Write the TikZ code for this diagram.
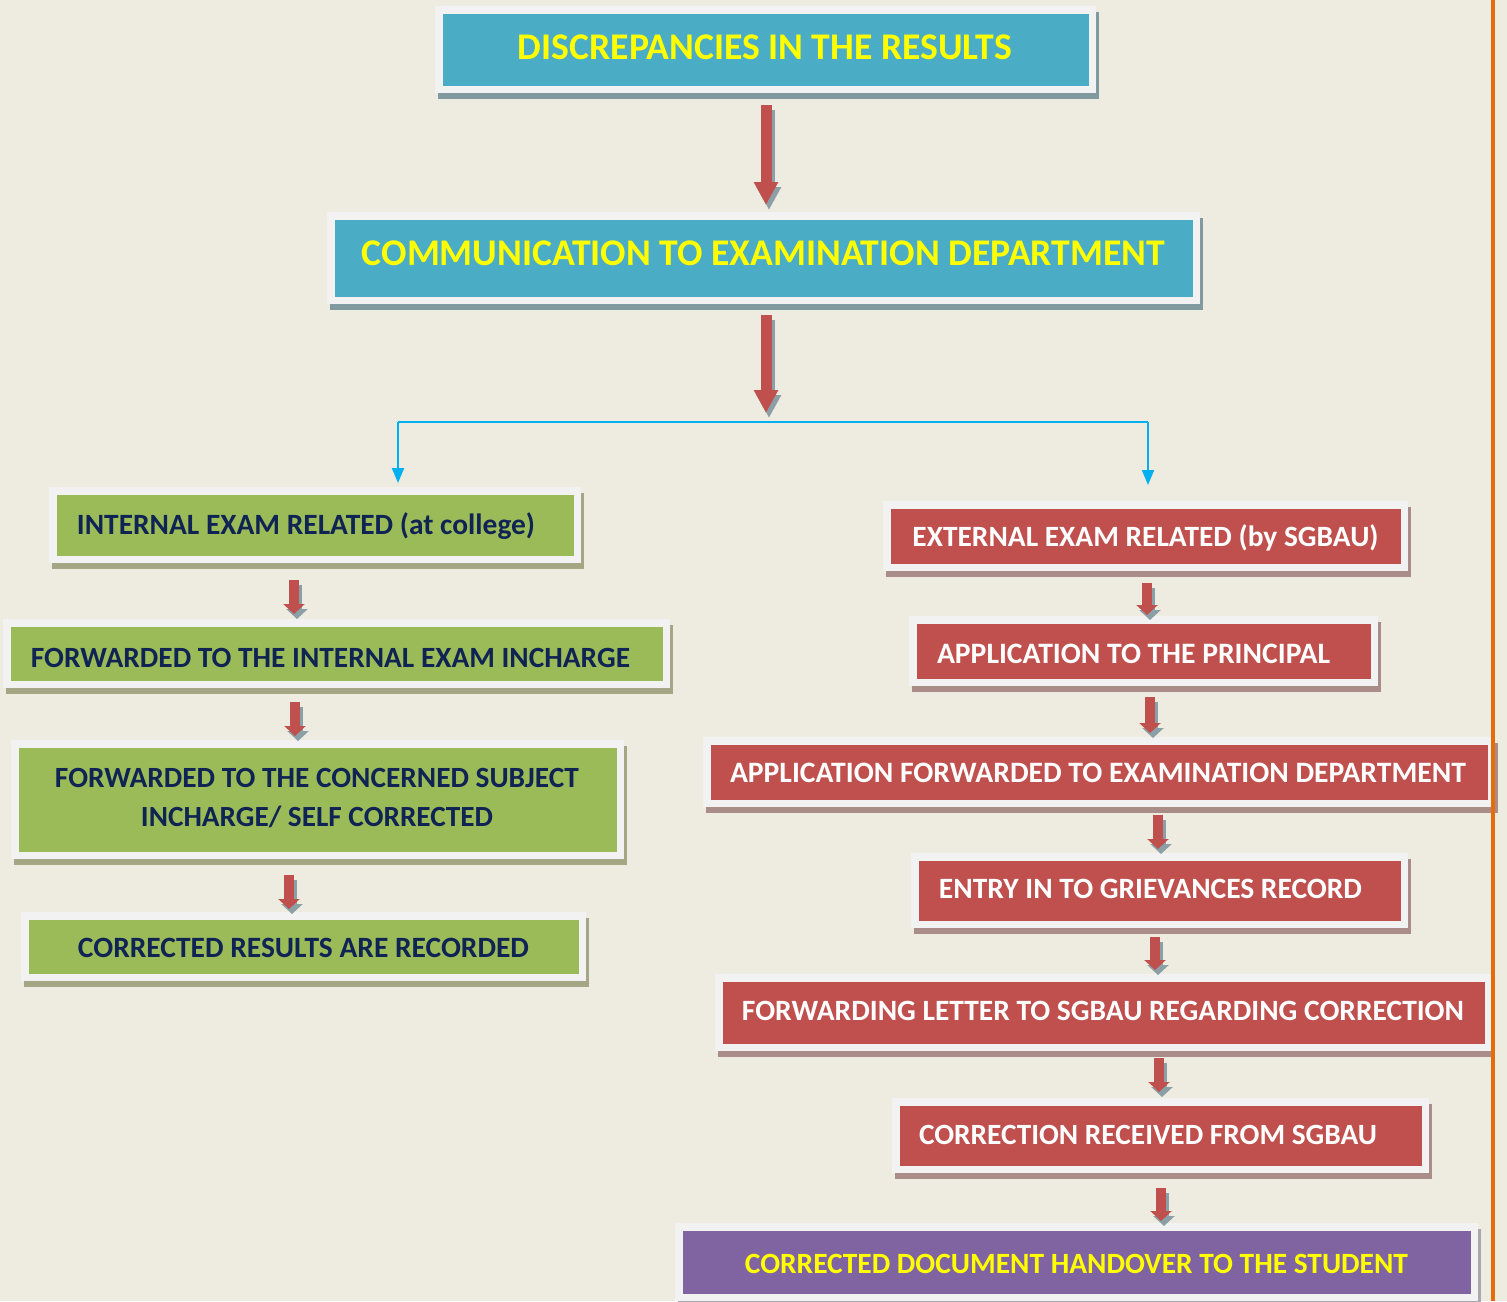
\documentclass[tikz,border=0pt]{standalone}
\usepackage{fontspec}
\setmainfont{Carlito}
\usepackage{graphicx}
\usetikzlibrary{arrows.meta,shadows,calc}
\definecolor{bgc}{RGB}{238,235,224}
\definecolor{framec}{RGB}{242,242,242}
\definecolor{bluec}{RGB}{75,172,198}
\definecolor{greenc}{RGB}{155,187,89}
\definecolor{redc}{RGB}{192,80,77}
\definecolor{purplec}{RGB}{128,100,162}
\definecolor{bluesh}{RGB}{128,154,160}
\definecolor{greensh}{RGB}{164,166,134}
\definecolor{redsh}{RGB}{170,140,137}
\definecolor{purplesh}{RGB}{170,168,175}
\definecolor{arrshc}{RGB}{138,160,166}
\definecolor{cyanc}{RGB}{0,176,240}
\definecolor{navyc}{RGB}{16,36,84}
\definecolor{yellowc}{RGB}{255,255,0}
\definecolor{orangec}{RGB}{228,108,10}
\newcommand\fitt[2]{\resizebox{#1}{!}{\vphantom{X}\smash{#2}}}
\newcommand\redarrow[5]{%
  \draw[#1sh] ($(#2)+(#3)+(3,5)$) -- ($(#4)+(#5)+(3,5)$);
  \draw[#1] ($(#2)+(#3)$) -- ($(#4)+(#5)$);}
\tikzset{
  flowbox/.style 2 args={draw=none, fill=framec, inner sep=0pt, outer sep=0pt,
    drop shadow={shadow xshift=3pt, shadow yshift=-6pt, fill=#2, opacity=1},
    path picture={\fill[#1] ([shift={(7.5pt,7.5pt)}]path picture bounding box.south west)
      rectangle ([shift={(-7.5pt,-7.5pt)}]path picture bounding box.north east);}},
  bluebox/.style={flowbox={bluec}{bluesh}},
  greenbox/.style={flowbox={greenc}{greensh}},
  redbox/.style={flowbox={redc}{redsh}},
  purplebox/.style={flowbox={purplec}{purplesh}},
  txt/.style={inner sep=0pt, outer sep=0pt, font=\bfseries},
  ytxt/.style={txt, text=yellowc},
  ntxt/.style={txt, text=navyc},
  wtxt/.style={txt, text=white},
  bigarr/.style={line width=11pt, draw=redc, -{Triangle[width=23pt,length=23pt]}},
  bigarrsh/.style={line width=11pt, draw=arrshc, -{Triangle[width=23pt,length=23pt]}},
  smarr/.style={line width=10pt, draw=redc, -{Triangle[width=21pt,length=10pt]}},
  smarrsh/.style={line width=10pt, draw=arrshc, -{Triangle[width=21pt,length=10pt]}},
  cyanline/.style={line width=2pt, draw=cyanc},
  cyanarr/.style={line width=2pt, draw=cyanc, -{Triangle[width=12pt,length=15pt]}},
}
\begin{document}
\begin{tikzpicture}[x=1pt,y=-1pt]
\fill[bgc] (0,0) rectangle (1507,1301);
\useasboundingbox (0,0) rectangle (1507,1301);

% boxes
\node[bluebox, minimum width=661pt, minimum height=87pt] (b1) at (765.5,49.5) {};
\node[bluebox, minimum width=873pt, minimum height=92pt] (b2) at (763.5,258) {};
\node[greenbox, minimum width=532pt, minimum height=76pt] (b3) at (315,525) {};
\node[greenbox, minimum width=667pt, minimum height=69pt] (b4) at (336.5,653.5) {};
\node[greenbox, minimum width=613pt, minimum height=119pt] (b5) at (317.5,799.5) {};
\node[greenbox, minimum width=565pt, minimum height=69pt] (b6) at (303.5,946.5) {};
\node[redbox, minimum width=525pt, minimum height=70pt] (b7) at (1145.5,536) {};
\node[redbox, minimum width=469pt, minimum height=70pt] (b8) at (1143.5,651) {};
\node[redbox, minimum width=792pt, minimum height=70pt] (b9) at (1099,772) {};
\node[redbox, minimum width=497pt, minimum height=75pt] (b10) at (1159.5,890.5) {};
\node[redbox, minimum width=777pt, minimum height=77pt] (b11) at (1103.5,1012.5) {};
\node[redbox, minimum width=537pt, minimum height=75pt] (b12) at (1160.5,1135.5) {};
\node[purplebox, minimum width=803pt, minimum height=78pt] (b13) at (1076.5,1262) {};

% texts
\node[ytxt] (t1) at (765,47.5) {\fitt{494pt}{DISCREPANCIES IN THE RESULTS}};
\node[ytxt] (t2) at (763.5,253.5) {\fitt{803pt}{COMMUNICATION TO EXAMINATION DEPARTMENT}};
\node[ntxt] (t3) at (306,524.5) {\fitt{458pt}{INTERNAL EXAM RELATED (at college)}};
\node[ntxt] (t4) at (330.5,657.5) {\fitt{599pt}{FORWARDED TO THE INTERNAL EXAM INCHARGE}};
\node[ntxt] (t5a) at (317,777.5) {\fitt{524pt}{FORWARDED TO THE CONCERNED SUBJECT}};
\node[ntxt] (t5b) at (317,817.5) {\fitt{352pt}{INCHARGE/ SELF CORRECTED}};
\node[ntxt] (t6) at (303.5,947.5) {\fitt{451pt}{CORRECTED RESULTS ARE RECORDED}};
\node[wtxt] (t7) at (1145.5,536.5) {\fitt{466pt}{EXTERNAL EXAM RELATED (by SGBAU)}};
\node[wtxt] (t8) at (1133.5,653.5) {\fitt{393pt}{APPLICATION TO THE PRINCIPAL}};
\node[wtxt] (t9) at (1098,773) {\fitt{736pt}{APPLICATION FORWARDED TO EXAMINATION DEPARTMENT}};
\node[wtxt] (t10) at (1150.5,889) {\fitt{423pt}{ENTRY IN TO GRIEVANCES RECORD}};
\node[wtxt] (t11) at (1103,1011) {\fitt{722pt}{FORWARDING LETTER TO SGBAU REGARDING CORRECTION}};
\node[wtxt] (t12) at (1148,1135) {\fitt{458pt}{CORRECTION RECEIVED FROM SGBAU}};
\node[ytxt] (t13) at (1076.5,1264) {\fitt{663pt}{CORRECTED DOCUMENT HANDOVER TO THE STUDENT}};

% branch
\coordinate (br) at (766,422);
\coordinate (jl) at (398,422);
\coordinate (jr) at (1148,422);

% red arrows
\redarrow{bigarr}{b1.south}{0.5,12}{b2.north}{2.5,-7}
\redarrow{bigarr}{b2.south}{2.5,11}{br}{0,-9}
\redarrow{smarr}{b3.south}{-21,17}{b4.north}{-42.5,-5}
\redarrow{smarr}{b4.south}{-41.5,14}{b5.north}{-22.5,-4}
\redarrow{smarr}{b5.south}{-28.5,16}{b6.north}{-14.5,-3}
\redarrow{smarr}{b7.south}{1.5,12}{b8.north}{3.5,-1}
\redarrow{smarr}{b8.south}{6.5,11}{b9.north}{51,-4}
\redarrow{smarr}{b9.south}{59,8}{b10.north}{-1.5,-4}
\redarrow{smarr}{b10.south}{-4.5,9}{b11.north}{51.5,-4}
\redarrow{smarr}{b11.south}{55.5,7}{b12.north}{-1.5,-6}
\redarrow{smarr}{b12.south}{0.5,15}{b13.north}{84.5,-2}

% cyan split
\draw[cyanline] (jl) -- (jr);
\draw[cyanarr, shorten >=4pt] (jl) -- (b3.north -| jl);
\draw[cyanarr, shorten >=16pt] (jr) -- (b7.north -| jr);

% orange margin line
\fill[orangec] (1491,0) rectangle (1495,1301);
\end{tikzpicture}
\end{document}
